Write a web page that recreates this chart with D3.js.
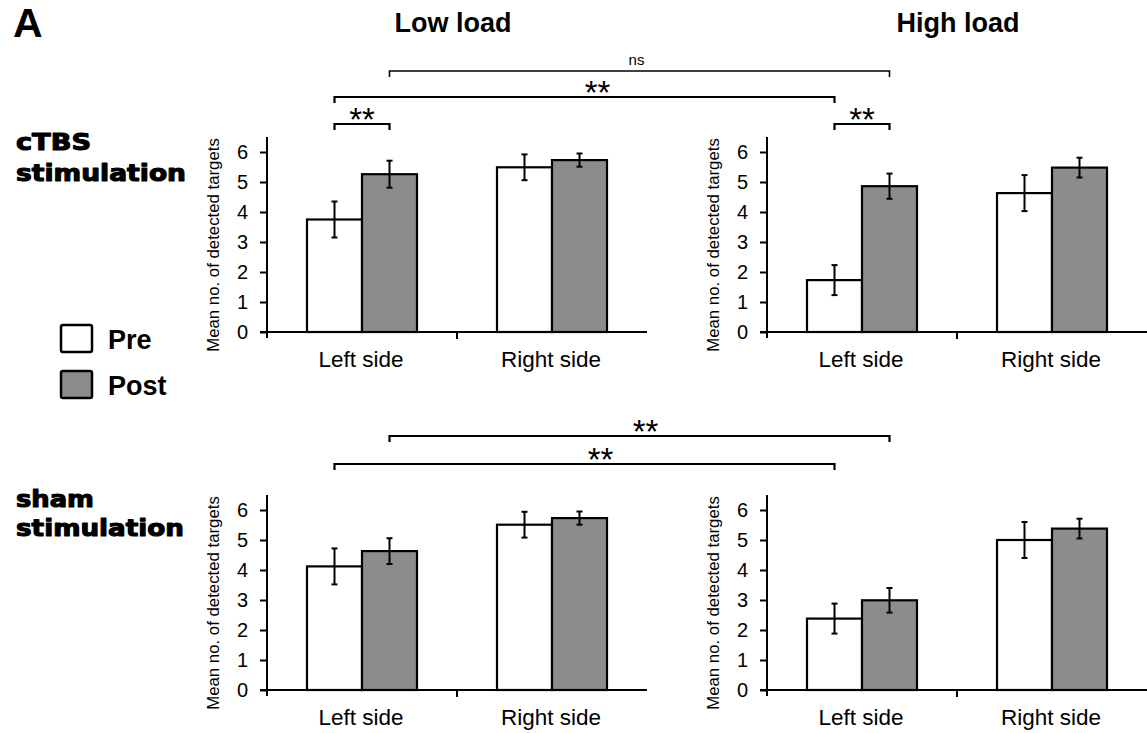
<!DOCTYPE html>
<html>
<head>
<meta charset="utf-8">
<script src="https://cdn.jsdelivr.net/npm/d3@7"></script>
<style>
  html, body { margin: 0; padding: 0; background: #ffffff; }
  svg { display: block; }
  text { font-family: "Liberation Sans", Arial, Helvetica, sans-serif; fill: #000; }
</style>
</head>
<body>
<svg id="chart" width="1147" height="733"></svg>
<script>
// ---------------- DATA ----------------
const categories = ["Left side", "Right side"];
const conditions = ["Pre", "Post"];
const yTicks = [0, 1, 2, 3, 4, 5, 6];
const yMax = 6.5;
const loads = ["Low load", "High load"];
const stimulations = ["cTBS stimulation", "sham stimulation"];
const yAxisLabel = "Mean no. of detected targets";

// means [Left side, Right side]
const ctbsLowPre   = [3.75, 5.49];
const ctbsLowPost  = [5.26, 5.73];
const ctbsHighPre  = [1.73, 4.63];
const ctbsHighPost = [4.86, 5.48];
const shamLowPre   = [4.12, 5.51];
const shamLowPost  = [4.63, 5.73];
const shamHighPre  = [2.38, 5.00];
const shamHighPost = [2.99, 5.38];

// error bar half-lengths [Left side, Right side]
const ctbsLowPreErr   = [0.60, 0.43];
const ctbsLowPostErr  = [0.45, 0.22];
const ctbsHighPreErr  = [0.50, 0.60];
const ctbsHighPostErr = [0.42, 0.33];
const shamLowPreErr   = [0.60, 0.43];
const shamLowPostErr  = [0.43, 0.22];
const shamHighPreErr  = [0.50, 0.60];
const shamHighPostErr = [0.41, 0.33];

// significance comparisons: [fromLoad, fromCondition, toLoad, toCondition, label] (all on Left side)
const ctbsComparisons = [
  ["Low load", "Pre",  "High load", "Pre",  "**"],
  ["Low load", "Post", "High load", "Post", "ns"],
  ["Low load", "Pre",  "Low load",  "Post", "**"],
  ["High load","Pre",  "High load", "Post", "**"]
];
const shamComparisons = [
  ["Low load", "Post", "High load", "Post", "**"],
  ["Low load", "Pre",  "High load", "Pre",  "**"]
];

// ---------------- LAYOUT ----------------
const svg = d3.select("#chart");
const axisXs = [267, 767];      // y-axis x position per load column
const baselines = [332, 690];   // baseline per stimulation row
const plotH = 195;
const plotW = 380;

const panels = [
  { row: 0, col: 0, pre: ctbsLowPre,  post: ctbsLowPost,  preErr: ctbsLowPreErr,  postErr: ctbsLowPostErr },
  { row: 0, col: 1, pre: ctbsHighPre, post: ctbsHighPost, preErr: ctbsHighPreErr, postErr: ctbsHighPostErr },
  { row: 1, col: 0, pre: shamLowPre,  post: shamLowPost,  preErr: shamLowPreErr,  postErr: shamLowPostErr },
  { row: 1, col: 1, pre: shamHighPre, post: shamHighPost, preErr: shamHighPreErr, postErr: shamHighPostErr }
];

const fills = { Pre: "#ffffff", Post: "#8c8c8c" };

function xScaleFor(col) {
  return d3.scaleBand().domain(categories).range([axisXs[col], axisXs[col] + plotW]).paddingInner(0).paddingOuter(0);
}
const xInner = d3.scaleBand().domain(conditions).range([0, plotW / 2]).paddingInner(0).paddingOuter(40 / 55);
function yScaleFor(row) {
  return d3.scaleLinear().domain([0, yMax]).range([baselines[row], baselines[row] - plotH]);
}

panels.forEach(p => {
  const x = xScaleFor(p.col);
  const y = yScaleFor(p.row);
  const g = svg.append("g");
  const x0 = axisXs[p.col];
  const base = baselines[p.row];

  const rows = [];
  categories.forEach((c, i) => {
    rows.push({ cat: c, cond: "Pre", v: p.pre[i], e: p.preErr[i] });
    rows.push({ cat: c, cond: "Post", v: p.post[i], e: p.postErr[i] });
  });

  // bars
  g.selectAll("rect.bar").data(rows).join("rect")
    .attr("class", "bar")
    .attr("x", d => x(d.cat) + xInner(d.cond))
    .attr("width", xInner.bandwidth())
    .attr("y", d => y(d.v))
    .attr("height", d => y(0) - y(d.v))
    .attr("fill", d => fills[d.cond])
    .attr("stroke", "#000")
    .attr("stroke-width", 2.2);

  // error bars
  const eb = g.selectAll("g.err").data(rows).join("g").attr("class", "err")
    .attr("transform", d => `translate(${x(d.cat) + xInner(d.cond) + xInner.bandwidth() / 2},0)`);
  eb.append("line").attr("x1", 0).attr("x2", 0)
    .attr("y1", d => y(d.v + d.e)).attr("y2", d => y(d.v - d.e))
    .attr("stroke", "#000").attr("stroke-width", 2);
  eb.append("line").attr("x1", -3).attr("x2", 3)
    .attr("y1", d => y(d.v + d.e)).attr("y2", d => y(d.v + d.e))
    .attr("stroke", "#000").attr("stroke-width", 2);
  eb.append("line").attr("x1", -3).attr("x2", 3)
    .attr("y1", d => y(d.v - d.e)).attr("y2", d => y(d.v - d.e))
    .attr("stroke", "#000").attr("stroke-width", 2);

  // y axis
  const yAxis = d3.axisLeft(y).tickValues(yTicks).tickSize(7).tickPadding(12).tickFormat(d3.format("d"));
  const ya = g.append("g").attr("transform", `translate(${x0},0)`).call(yAxis);
  ya.select(".domain").remove();
  ya.selectAll(".tick line").attr("stroke", "#000").attr("stroke-width", 2);
  ya.selectAll(".tick text").style("font-size", "20px").attr("fill", "#000")
    .style("font-family", '"Liberation Sans", Arial, sans-serif');
  g.append("line").attr("x1", x0).attr("x2", x0)
    .attr("y1", y(yMax)).attr("y2", base + 6)
    .attr("stroke", "#000").attr("stroke-width", 2);

  // x axis
  g.append("line").attr("x1", x0 - 7).attr("x2", x0 + plotW)
    .attr("y1", base).attr("y2", base)
    .attr("stroke", "#000").attr("stroke-width", 2);
  g.append("line").attr("x1", x(categories[1])).attr("x2", x(categories[1]))
    .attr("y1", base).attr("y2", base + 7)
    .attr("stroke", "#000").attr("stroke-width", 2);
  g.selectAll("text.cat").data(categories).join("text")
    .attr("class", "cat")
    .attr("x", d => x(d) + x.bandwidth() / 2 - 1)
    .attr("y", base + 35)
    .attr("text-anchor", "middle")
    .style("font-size", "22.5px")
    .text(d => d);

  // y axis label
  g.append("text")
    .attr("transform", `translate(${x0 - 48},${base - 87}) rotate(-90)`)
    .attr("text-anchor", "middle")
    .style("font-size", "16.8px")
    .text(yAxisLabel);
});

// ---------------- TITLES ----------------
svg.append("text").attr("x", 13).attr("y", 37)
  .style("font-size", "41px").style("font-weight", "bold").text("A");

const titleCenters = [453, 958];
loads.forEach((t, i) => {
  svg.append("text").attr("x", titleCenters[i]).attr("y", 32)
    .attr("text-anchor", "middle")
    .style("font-size", "27px").style("font-weight", "bold").text(t);
});

// row labels
const rowLabelLayout = [
  { y1: 150, y2: 181, w1: 75, w2: 170 },
  { y1: 507, y2: 536, w1: 78, w2: 168 }
];
stimulations.forEach((s, i) => {
  const parts = s.split(" ");
  const L = rowLabelLayout[i];
  [[parts[0], L.y1, L.w1], [parts[1], L.y2, L.w2]].forEach(([t, yy, w]) => {
    svg.append("text").attr("x", 16).attr("y", yy)
      .style("font-family", '"DejaVu Sans", sans-serif')
      .style("font-size", "23px").style("font-weight", "bold")
      .attr("stroke", "#000").attr("stroke-width", 1.1).attr("stroke-linejoin", "round")
      .attr("textLength", w).attr("lengthAdjust", "spacingAndGlyphs")
      .text(t);
  });
});

// legend
const legendY = [325, 371];
conditions.forEach((c, i) => {
  svg.append("rect").attr("x", 61).attr("y", legendY[i]).attr("width", 31).attr("height", 27)
    .attr("rx", 2).attr("fill", fills[c]).attr("stroke", "#000").attr("stroke-width", 2.5);
  svg.append("text").attr("x", 108).attr("y", legendY[i] + 24)
    .style("font-size", "27px").style("font-weight", "bold").text(c);
});

// ---------------- SIGNIFICANCE BRACKETS ----------------
function barCenter(load, cond) {
  const col = loads.indexOf(load);
  const x = xScaleFor(col);
  return x(categories[0]) + xInner(cond) + xInner.bandwidth() / 2;
}
const bracketLayout = [
  [ { y: 97, dx: 13 }, { y: 71, dx: -3 }, { y: 124, dx: 0 }, { y: 124, dx: 0 } ],
  [ { y: 436, dx: 6 }, { y: 464, dx: 16 } ]
];
[ctbsComparisons, shamComparisons].forEach((comps, r) => {
  comps.forEach((c, k) => {
    const L = bracketLayout[r][k];
    const xa = barCenter(c[0], c[1]);
    const xb = barCenter(c[2], c[3]);
    const thin = c[4] === "ns";
    svg.append("path")
      .attr("d", `M${xa},${L.y + 6}V${L.y}H${xb}V${L.y + 6}`)
      .attr("fill", "none").attr("stroke", "#000")
      .attr("stroke-width", thin ? 1.6 : 2.2);
    const xm = (xa + xb) / 2 + L.dx;
    if (thin) {
      svg.append("text").attr("x", xm).attr("y", L.y - 6)
        .attr("text-anchor", "middle").style("font-size", "15px").text(c[4]);
    } else {
      svg.append("text").attr("x", xm).attr("y", L.y + 7)
        .attr("text-anchor", "middle").style("font-size", "33px").text(c[4]);
    }
  });
});
</script>
</body>
</html>
